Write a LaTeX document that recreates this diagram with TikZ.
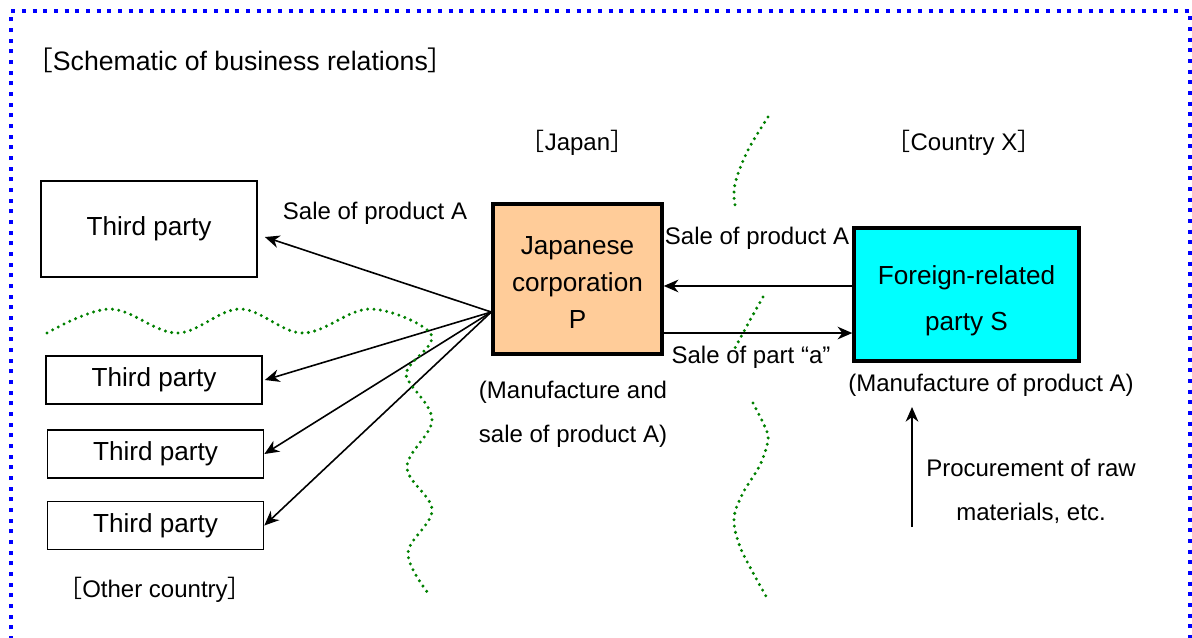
\documentclass[tikz,border=0pt]{standalone}
\usepackage{fontspec}
\setmainfont{Liberation Sans}
\newfontfamily\cjk{Noto Sans CJK JP}
\usetikzlibrary{arrows.meta}
\definecolor{aqua}{RGB}{0,255,255}
\definecolor{peach}{RGB}{255,204,153}
\definecolor{linegreen}{RGB}{0,128,0}
\newcommand{\lbr}{{\cjk ［}}
\newcommand{\rbr}{{\cjk ］}}

\begin{document}
\begin{tikzpicture}[x=0.75pt,y=-0.75pt,
  party/.style={draw,line width=1.3pt,minimum width=162pt,inner sep=0pt,font=\fontsize{19.6pt}{24pt}\selectfont},
  firm/.style={draw,line width=2.6pt,inner sep=0pt,align=center},
  label/.style={inner sep=0pt,align=center,font=\fontsize{18pt}{33pt}\selectfont},
  arr/.style={-{Stealth[length=11pt,width=9.5pt,inset=3.5pt]},line width=1.2pt},
  border/.style={linegreen,line width=2.5pt,line cap=round,dash pattern=on 0pt off 4.8pt}]

\useasboundingbox (0,0) rectangle (1192,637);

% frame
\draw[blue,line width=3pt,dash pattern=on 3pt off 5pt] (11,640) -- (11,11) -- (1190,11) -- (1190,640);

\node[label,anchor=west,font=\fontsize{20pt}{24pt}\selectfont] (title) at (26,60) {\lbr Schematic of business relations\rbr};

% country names
\node[label] (japan) at (577.5,143) {\lbr Japan\rbr};
\node[label] (cx) at (964,143) {\lbr Country X\rbr};
\node[label] (other) at (155,590) {\lbr Other country\rbr};

% third parties
\node[party,minimum height=72pt] (tp1) at (149,229) {Third party};
\node[party,minimum height=36pt] (tp2) at (154,380) {Third party};
\node[party,minimum height=36pt] (tp3) at (155.5,454) {Third party};
\node[party,minimum height=36pt] (tp4) at (155.5,525.5) {Third party};

% corporations
\node[firm,fill=peach,minimum width=126.75pt,minimum height=112.5pt,
  font=\fontsize{19.6pt}{28pt}\selectfont] (P) at (577.5,279) {\rule{0pt}{18.5pt}Japanese\\corporation\\P};
\node[firm,fill=aqua,minimum width=168.75pt,minimum height=99.75pt,
  font=\fontsize{19.6pt}{34.5pt}\selectfont] (S) at (966.5,294.5) {\rule{0pt}{23.3pt}Foreign-related\\party S};

% labels
\node[label] (sale1) at (375,213) {Sale of product A};
\node[label] (sale2) at (757,238) {Sale of product A};
\node[label] (part) at (751,357) {Sale of part “a”};
\node[label] (mfgP) at (573,414.5) {(Manufacture and\\sale of product A)};
\node[label] (mfgS) at (991,385) {(Manufacture of product A)};
\node[label] (proc) at (1031,491) {Procurement of raw\\materials, etc.};

% sales to third parties
\coordinate (fan) at ([yshift=-24.75pt]P.west);
\draw[arr] (fan) -- ([shift={(7,8)}]tp1.east);
\draw[arr] (fan) -- ([xshift=1.5pt]tp2.east);
\draw[arr] (fan) -- (tp3.east);
\draw[arr] (fan) -- (tp4.east);

% between P and S
\coordinate (sa) at ([yshift=6.4pt]S.west);
\coordinate (pa) at ([yshift=-28.9pt]S.west);
\draw[arr] (sa) -- (sa -| P.east);
\draw[arr] (pa -| P.east) -- (pa);

% raw materials
\coordinate (raw) at (912,527);
\draw[arr] (raw) -- ++(0,-120);

% borders between countries
\draw[border] plot[smooth,tension=0.6] coordinates {(47,333) (110,309) (177,333) (240,309) (303,333) (370,309)
  (431,334) (409,367) (408,380) (432,420) (407,467) (432,510) (408,553) (428,593)};
\draw[border] plot[smooth,tension=0.6] coordinates {(768,117) (748,150) (736,180) (734,197) (736,209)};
\draw[border] plot[smooth,tension=0.6] coordinates {(763,297) (749,322) (735,348)};
\draw[border] plot[smooth,tension=0.6] coordinates {(753,403) (765,427) (768,440) (760,465) (743,493)
  (734,518) (739,544) (751,569) (767,598)};

\end{tikzpicture}
\end{document}
